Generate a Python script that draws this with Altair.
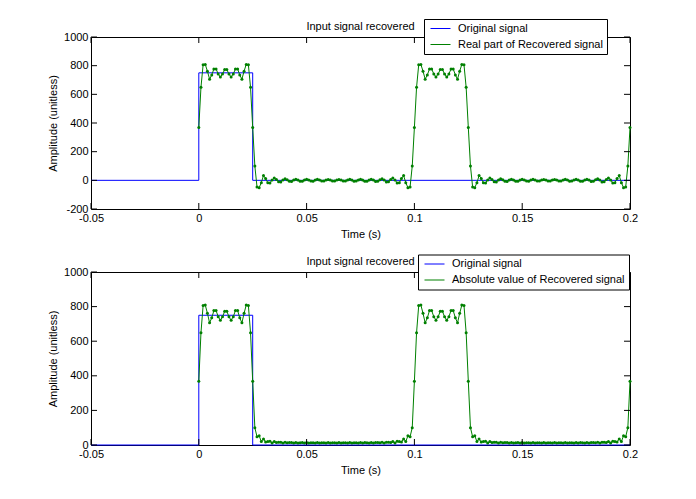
import altair as alt
import pandas as pd

# sample instants of the recovered signal (seconds, 1 ms apart)
SAMPLE_T = [i / 1000 for i in range(201)]

REAL_PART = [
    369, 649, 806, 809, 761, 706, 735, 777, 777, 742,
    721, 741, 773, 773, 741, 721, 742, 777, 777, 735,
    706, 761, 809, 806, 649, 369, 100, -46, -51, -16,
    33, 13, -17, -18, 3, 16, 6, -10, -11, 2,
    11, 4, -7, -8, 2, 8, 3, -6, -7, 2,
    7, 3, -5, -6, 2, 7, 2, -5, -5, 2,
    6, 2, -5, -5, 2, 6, 2, -5, -5, 2,
    7, 2, -6, -5, 3, 7, 2, -7, -6, 3,
    8, 2, -8, -7, 4, 11, 2, -11, -10, 6,
    16, 3, -18, -17, 13, 33, -16, -51, -46, 100,
    369, 649, 806, 809, 761, 706, 735, 777, 777, 742,
    721, 741, 773, 773, 741, 721, 742, 777, 777, 735,
    706, 761, 809, 806, 649, 369, 100, -46, -51, -16,
    33, 13, -17, -18, 3, 16, 6, -10, -11, 2,
    11, 4, -7, -8, 2, 8, 3, -6, -7, 2,
    7, 3, -5, -6, 2, 7, 2, -5, -5, 2,
    6, 2, -5, -5, 2, 6, 2, -5, -5, 2,
    7, 2, -6, -5, 3, 7, 2, -7, -6, 3,
    8, 2, -8, -7, 4, 11, 2, -11, -10, 6,
    16, 3, -18, -17, 13, 33, -16, -51, -46, 100,
    369,
]

ABS_VALUE = [
    369, 649, 806, 809, 761, 706, 735, 777, 777, 742,
    721, 741, 773, 773, 741, 721, 742, 777, 777, 735,
    706, 761, 809, 806, 649, 369, 100, 48, 53, 20,
    35, 18, 20, 22, 12, 20, 14, 16, 16, 12,
    16, 13, 14, 14, 12, 15, 12, 13, 14, 12,
    14, 12, 13, 13, 12, 14, 12, 13, 13, 12,
    14, 12, 13, 13, 12, 14, 12, 13, 13, 12,
    14, 12, 13, 13, 12, 14, 12, 14, 13, 12,
    15, 12, 14, 14, 13, 16, 12, 16, 16, 14,
    20, 12, 22, 20, 18, 35, 20, 53, 48, 100,
    369, 649, 806, 809, 761, 706, 735, 777, 777, 742,
    721, 741, 773, 773, 741, 721, 742, 777, 777, 735,
    706, 761, 809, 806, 649, 369, 100, 48, 53, 20,
    35, 18, 20, 22, 12, 20, 14, 16, 16, 12,
    16, 13, 14, 14, 12, 15, 12, 13, 14, 12,
    14, 12, 13, 13, 12, 14, 12, 13, 13, 12,
    14, 12, 13, 13, 12, 14, 12, 13, 13, 12,
    14, 12, 13, 13, 12, 14, 12, 14, 13, 12,
    15, 12, 14, 14, 13, 16, 12, 16, 16, 14,
    20, 12, 22, 20, 18, 35, 20, 53, 48, 100,
    369,
]

ORIG_T = [-0.05, 0.0, 0.025, 0.2]
ORIG_V = [0, 750, 0, 0]

XTICKS = [-0.05, 0, 0.05, 0.1, 0.15, 0.2]
YTICKS_TOP = [-200, 0, 200, 400, 600, 800, 1000]
YTICKS_BOT = [0, 200, 400, 600, 800, 1000]

TITLE = "Input signal recovered"
ORIG_NAME = "Original signal"
REAL_NAME = "Real part of Recovered signal"
ABS_NAME = "Absolute value of Recovered signal"

FONT = "Liberation Sans"
BLUE = "#0000ff"
GREEN = "#008000"
LABEL_EXPR = "replace(format(datum.value, '~g'), '\u2212', '-')"
LEGEND_LINE = "M-0.6,0H3.4"


def panel(values, name, ydom, yticks, height, lx, ly):
    orig = pd.DataFrame({"t": ORIG_T, "v": ORIG_V, "s": ORIG_NAME})
    rec = pd.DataFrame({"t": SAMPLE_T, "v": values, "s": name})
    xs = alt.Scale(domain=[XTICKS[0], XTICKS[-1]], nice=False, zero=False)
    ys = alt.Scale(domain=ydom, nice=False, zero=False)
    x = alt.X("t:Q", scale=xs,
              axis=alt.Axis(values=XTICKS, title="Time (s)", labelExpr=LABEL_EXPR))
    y = alt.Y("v:Q", scale=ys,
              axis=alt.Axis(values=yticks, title="Amplitude (unitless)",
                            labelExpr=LABEL_EXPR))
    color = alt.Color(
        "s:N",
        scale=alt.Scale(domain=[ORIG_NAME, name], range=[BLUE, GREEN]),
        legend=alt.Legend(
            title=None, orient="none", legendX=lx, legendY=ly, direction="vertical",
            strokeColor="black", fillColor="white", padding=4,
            labelFont=FONT, labelFontSize=11, labelColor="black", labelOffset=19,
            labelLimit=400,
            symbolType=LEGEND_LINE, symbolSize=100, symbolStrokeWidth=1,
            rowPadding=4,
        ),
    )
    blue = alt.Chart(orig).mark_line(interpolate="step-after", strokeWidth=1).encode(
        x=x, y=y, color=color)
    green = alt.Chart(rec).mark_line(strokeWidth=1).encode(x=x, y=y, color=color)
    dots = alt.Chart(rec).mark_circle(size=9, color=GREEN, opacity=1).encode(x=x, y=y)

    xt_bot = pd.DataFrame({"t": XTICKS, "v": ydom[0]})
    xt_top = pd.DataFrame({"t": XTICKS, "v": ydom[1]})
    yt_left = pd.DataFrame({"t": XTICKS[0], "v": yticks})
    yt_right = pd.DataFrame({"t": XTICKS[-1], "v": yticks})
    tk = dict(size=6, thickness=1, color="black", opacity=1)
    t1 = alt.Chart(xt_bot).mark_tick(orient="vertical", yOffset=-3, **tk).encode(x=x, y=y)
    t2 = alt.Chart(xt_top).mark_tick(orient="vertical", yOffset=3, **tk).encode(x=x, y=y)
    t3 = alt.Chart(yt_left).mark_tick(orient="horizontal", xOffset=3, **tk).encode(x=x, y=y)
    t4 = alt.Chart(yt_right).mark_tick(orient="horizontal", xOffset=-3, **tk).encode(x=x, y=y)

    return alt.layer(blue, green, dots, t1, t2, t3, t4).properties(
        width=539, height=height,
        title=alt.TitleParams(TITLE, font=FONT, fontSize=11, fontWeight="normal",
                              color="black", anchor="middle", offset=-13),
    )


top = panel(REAL_PART, REAL_NAME, [-200, 1000], YTICKS_TOP, 172, 333, -18)
bot = panel(ABS_VALUE, ABS_NAME, [0, 1000], YTICKS_BOT, 173, 327, -17.5)

chart = (
    alt.vconcat(top, bot, spacing=13)
    .resolve_scale(color="independent")
    .resolve_legend(color="independent")
    .properties(padding={"left": 39, "top": 10, "right": 5, "bottom": 5},
                background="white")
    .configure_view(stroke="black", strokeWidth=1)
    .configure_axis(
        labelFont=FONT, labelFontSize=11, labelColor="black",
        titleFont=FONT, titleFontSize=11, titleFontWeight="normal", titleColor="black",
        grid=False, domain=False, ticks=False, tickSize=0,
        labelPadding=3, titlePadding=5, labelFlush=False, labelOverlap=False,
    )
)

chart.save("out.html", embed_options={"renderer": "svg", "actions": False})
